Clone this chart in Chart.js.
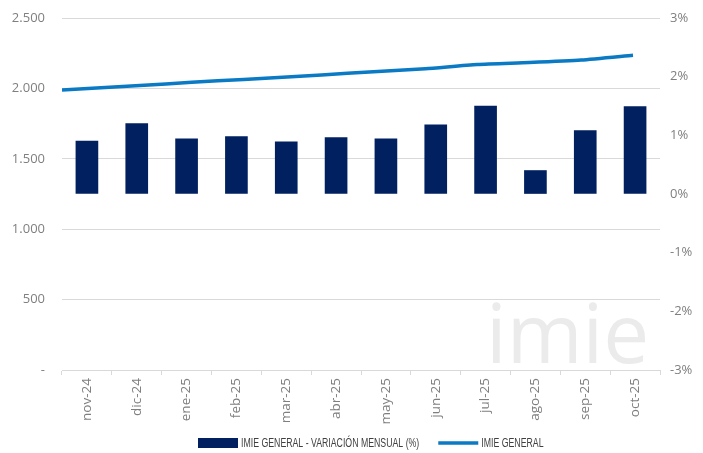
<!DOCTYPE html>
<html>
<head>
<meta charset="utf-8">
<script src="https://cdn.jsdelivr.net/npm/chart.js@4"></script>
<style>
  html, body { margin: 0; padding: 0; background: #ffffff; }
  #wrap { width: 703px; height: 453px; }
</style>
</head>
<body>
<div id="wrap"><canvas id="c" width="703" height="453"></canvas></div>
<script>
const categories = ["nov-24","dic-24","ene-25","feb-25","mar-25","abr-25","may-25","jun-25","jul-25","ago-25","sep-25","oct-25"];
const variacionMensual = [0.90, 1.20, 0.94, 0.98, 0.89, 0.96, 0.94, 1.18, 1.50, 0.40, 1.08, 1.49];
const imieGeneral = [1988, 2010, 2032, 2054, 2074, 2096, 2118, 2140, 2170, 2184, 2202, 2236];
const leftTicks = [0, 500, 1000, 1500, 2000, 2500];
const rightTicks = [-3, -2, -1, 0, 1, 2, 3];
const seriesNames = ["IMIE GENERAL - VARIACIÓN MENSUAL (%)", "IMIE GENERAL"];

const NAVY = "#002060";
const BLUE = "#0a7ac4";
const GREY_TXT = "#7f7f7f";
const GRID = "#d9d9d9";
const tickFont = { family: "'Open Sans', 'Noto Sans', sans-serif", size: 13 };

function fmtThousands(v) {
  if (v === 0) return "-";
  return String(v).replace(/\B(?=(\d{3})+(?!\d))/g, ".");
}

const watermark = {
  id: "watermark",
  beforeDatasetsDraw(chart) {
    const ctx = chart.ctx;
    ctx.save();
    ctx.fillStyle = "#ebebeb";
    ctx.font = "400 82px 'Open Sans', 'Noto Sans', sans-serif";
    ctx.textBaseline = "alphabetic";
    ctx.textAlign = "left";
    ctx.fillText("imie", 486, 363);
    ctx.restore();
  }
};

// legend drawn with horizontally condensed text
const condensedLegend = {
  id: "condensedLegend",
  afterDraw(chart) {
    const ctx = chart.ctx;
    const sx = 0.70;
    const yMid = 443;
    ctx.save();
    ctx.font = "12.5px 'Liberation Sans', Arial, sans-serif";
    ctx.textBaseline = "middle";
    let x = 198;
    ctx.fillStyle = NAVY;
    ctx.fillRect(x, yMid - 5, 40, 10);
    x += 43;
    ctx.save();
    ctx.translate(x, yMid + 0.5);
    ctx.scale(sx, 1);
    ctx.fillStyle = "#404040";
    ctx.fillText(seriesNames[0], 0, 0);
    const w1 = ctx.measureText(seriesNames[0]).width * sx;
    ctx.restore();
    x += w1 + 19;
    ctx.strokeStyle = BLUE;
    ctx.lineWidth = 3.5;
    ctx.beginPath();
    ctx.moveTo(x, yMid);
    ctx.lineTo(x + 40, yMid);
    ctx.stroke();
    x += 43;
    ctx.save();
    ctx.translate(x, yMid + 0.5);
    ctx.scale(sx, 1);
    ctx.fillStyle = "#404040";
    ctx.fillText(seriesNames[1], 0, 0);
    ctx.restore();
    ctx.restore();
  }
};

new Chart(document.getElementById("c"), {
  data: {
    labels: categories,
    datasets: [
      {
        type: "bar",
        label: seriesNames[0],
        data: variacionMensual,
        backgroundColor: NAVY,
        yAxisID: "y1",
        xAxisID: "x",
        grouped: false,
        barThickness: 22,
        order: 2
      },
      {
        type: "line",
        label: seriesNames[1],
        data: imieGeneral.map((v, i) => ({ x: i, y: v })),
        borderColor: BLUE,
        backgroundColor: BLUE,
        borderWidth: 3.5,
        pointRadius: 0,
        tension: 0.2,
        yAxisID: "y",
        xAxisID: "x2",
        order: 1
      }
    ]
  },
  options: {
    responsive: false,
    animation: false,
    devicePixelRatio: 1,
    layout: { padding: { top: 18, bottom: 24.5, left: 0, right: 0 } },
    plugins: {
      tooltip: { enabled: false },
      legend: { display: false }
    },
    scales: {
      x: {
        type: "category",
        offset: true,
        grid: { display: true, drawOnChartArea: false, drawTicks: true, tickLength: 5, color: GRID, offset: true },
        border: { display: true, color: GRID, width: 1 },
        ticks: { color: GREY_TXT, font: { family: tickFont.family, size: 13.5 }, maxRotation: 90, minRotation: 90, autoSkip: false, padding: 3 },
        afterFit(scale) { scale.height = 58.5; }
      },
      x2: {
        type: "linear",
        display: false,
        min: 0,
        max: 11.52
      },
      y: {
        type: "linear",
        position: "left",
        min: 0,
        max: 2500,
        afterBuildTicks(scale) { scale.ticks = leftTicks.map(v => ({ value: v })); },
        grid: { color: GRID, lineWidth: 1, drawTicks: true, tickLength: 17, tickColor: "rgba(0,0,0,0)" },
        border: { display: false },
        ticks: { color: GREY_TXT, font: tickFont, padding: 0, callback: v => fmtThousands(v) },
        afterFit(scale) { scale.width = 62; }
      },
      y1: {
        type: "linear",
        position: "right",
        min: -3,
        max: 3,
        afterBuildTicks(scale) { scale.ticks = rightTicks.map(v => ({ value: v })); },
        grid: { display: true, drawOnChartArea: false, drawTicks: true, tickLength: 10, tickColor: "rgba(0,0,0,0)" },
        border: { display: false },
        ticks: { color: GREY_TXT, font: tickFont, padding: 0, callback: v => v + "%" },
        afterFit(scale) { scale.width = 43; }
      }
    }
  },
  plugins: [watermark, condensedLegend]
});
</script>
</body>
</html>
